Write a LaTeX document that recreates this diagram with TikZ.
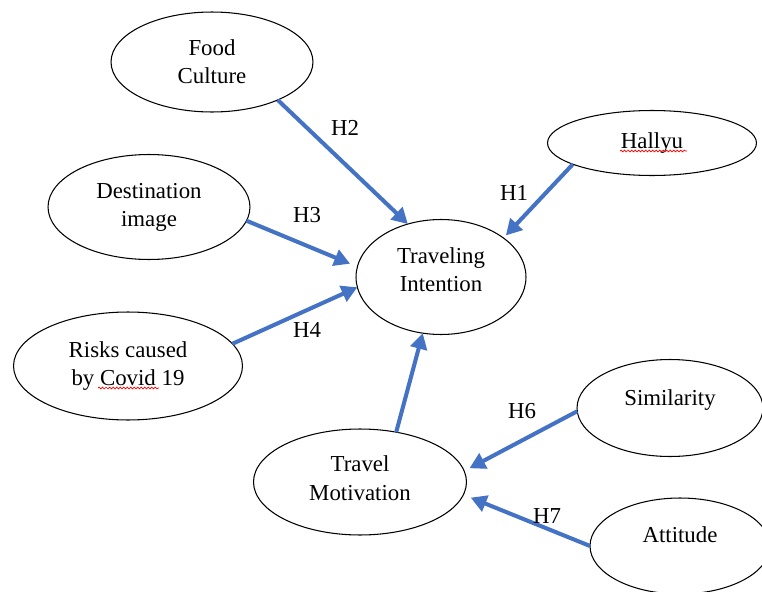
\documentclass[tikz,border=0pt]{standalone}
\usepackage{fontspec}
\setmainfont{Liberation Serif}
\usetikzlibrary{shapes.geometric,arrows.meta,decorations.pathmorphing,calc}
\definecolor{hypblue}{HTML}{4472C4}

\begin{document}
\begin{tikzpicture}[x=0.02cm,y=-0.02cm,
    construct/.style={draw,ellipse,line width=0.6pt,align=center,inner sep=0pt,outer sep=0pt,
        font=\fontsize{13}{16}\selectfont},
    hyp/.style={draw=hypblue,line width=2.3pt,-{Triangle[length=9pt,width=9.5pt]}},
    hlabel/.style={font=\fontsize{13}{16}\selectfont},
    spell/.style={draw=red,line width=0.4pt,decorate,
        decoration={snake,amplitude=0.5pt,segment length=2pt}}]
    \clip (0,0) rectangle (762,592);

    % 构念 (椭圆)
    \node[construct,minimum width=4.04cm,minimum height=2cm] (food) at (212,62) {Food\\Culture};
    \node[construct,minimum width=4.18cm,minimum height=1.3cm] (hallyu) at (652,143) {Hallyu};
    \node[construct,minimum width=4.04cm,minimum height=2.1cm] (dest) at (149,207) {Destination\\image};
    \node[construct,minimum width=3.4cm,minimum height=2.3cm,text depth=8pt] (ti) at (441,277) {Traveling\\Intention};
    \node[construct,minimum width=4.58cm,minimum height=2.16cm] (risks) at (128,366) {Risks caused\\by Covid 19};
    \node[construct,minimum width=3.72cm,minimum height=1.94cm,text depth=11.5pt] (sim) at (670,408) {Similarity};
    \node[construct,minimum width=4.26cm,minimum height=2.12cm,text depth=4.5pt] (tm) at (360,482) {Travel\\Motivation};
    \node[construct,minimum width=3.6cm,minimum height=1.92cm,text depth=13.5pt] (att) at (680,546) {Attitude};

    % 拼写检查的波浪线
    \draw[spell] ($(hallyu.center)+(-32,8)$) -- ($(hallyu.center)+(35,8)$);
    \draw[spell] ($(risks.center)+(-30,22)$) -- ($(risks.center)+(31,22)$);

    % 假设路径
    \draw[hyp] (food.-30) -- (ti.122);
    \draw[hyp,shorten >=2pt] (hallyu.195) -- (ti.32);
    \draw[hyp,shorten >=4.5pt] (dest.-8) -- (ti.173);
    \draw[hyp] (risks.12) -- (ti.187);
    \draw[hyp] (tm.54) -- (ti.252);
    \draw[hyp,shorten >=3.4pt] (sim.182) -- (tm.6);
    \draw[hyp,shorten >=4.5pt] (att.180) -- (tm.-7);

    % 标签
    \node[hlabel] (h1) at (514,193) {H1};
    \node[hlabel] (h2) at (345,128) {H2};
    \node[hlabel] (h3) at (307,215) {H3};
    \node[hlabel] (h4) at (307,330) {H4};
    \node[hlabel] (h6) at (522,411) {H6};
    \node[hlabel] (h7) at (547,516) {H7};
\end{tikzpicture}
\end{document}
